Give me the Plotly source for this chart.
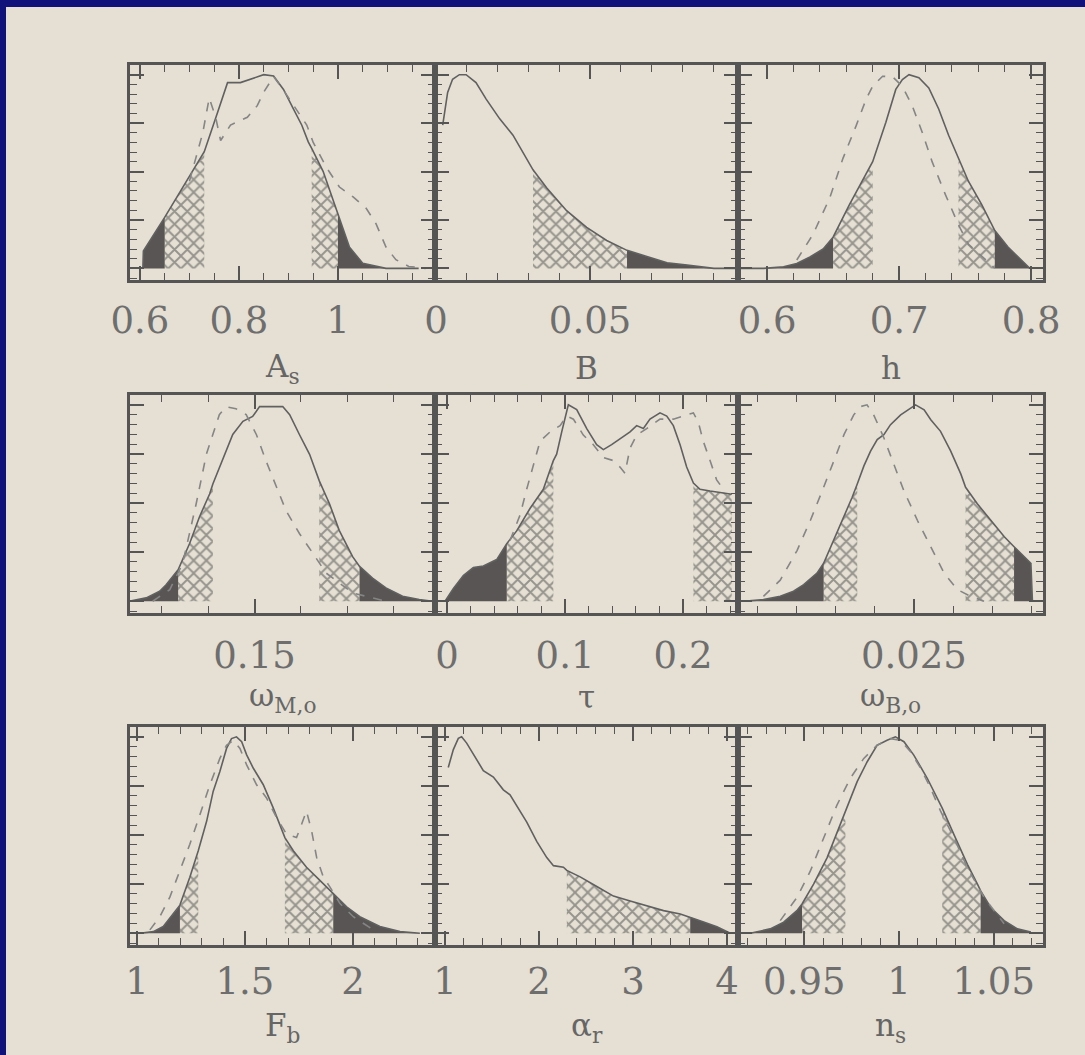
import numpy as np
import plotly.graph_objects as go

# ---------------- data (normalised marginal likelihoods, peak = 1) ----------------
AS_X = [0.606, 0.607, 0.65, 0.73, 0.757, 0.777, 0.803, 0.83, 0.85, 0.87, 0.89, 0.91, 0.927, 0.94, 0.947, 0.97, 1.0, 1.023, 1.05, 1.097, 1.163]
AS_Y = [0.0, 0.09, 0.263, 0.602, 0.806, 0.959, 0.959, 0.984, 1.0, 0.993, 0.924, 0.823, 0.739, 0.653, 0.62, 0.501, 0.28, 0.111, 0.026, 0.0, 0.0]
AS_DX = [0.70, 0.727, 0.74, 0.753, 0.763, 0.783, 0.817, 0.837, 0.85, 0.87, 0.89, 0.917, 0.937, 0.95, 0.977, 1.003, 1.03, 1.057, 1.077, 1.097, 1.117, 1.143, 1.177]
AS_DY = [0.45, 0.70, 0.88, 0.78, 0.66, 0.74, 0.78, 0.84, 0.91, 0.99, 0.92, 0.82, 0.74, 0.65, 0.52, 0.42, 0.37, 0.31, 0.23, 0.11, 0.045, 0.01, 0.0]
AS_DARK = [(0.606, 0.65), (1.0, 1.163)]
AS_HATCH = [(0.65, 0.73), (0.947, 1.0)]

B_X = [0.0022, 0.0038, 0.0054, 0.0076, 0.0098, 0.013, 0.0163, 0.0207, 0.025, 0.0293, 0.0315, 0.0359, 0.0424, 0.0489, 0.0554, 0.062, 0.0685, 0.075, 0.0815, 0.0902, 0.0975]
B_Y = [0.739, 0.908, 0.976, 1.0, 1.0, 0.959, 0.874, 0.772, 0.688, 0.569, 0.509, 0.416, 0.298, 0.212, 0.144, 0.093, 0.06, 0.029, 0.017, 0.0, 0.0]
B_DARK = [(0.062, 0.0975)]
B_HATCH = [(0.0315, 0.062)]

H_X = [0.58, 0.5975, 0.6125, 0.6225, 0.6325, 0.6425, 0.65, 0.6625, 0.68, 0.69, 0.6975, 0.7025, 0.7075, 0.715, 0.7225, 0.73, 0.7375, 0.745, 0.7525, 0.7625, 0.7725, 0.7825, 0.7925, 0.799]
H_Y = [0.0, 0.0, 0.008, 0.025, 0.059, 0.1, 0.161, 0.33, 0.551, 0.755, 0.924, 0.975, 1.0, 0.984, 0.932, 0.823, 0.687, 0.568, 0.45, 0.33, 0.195, 0.11, 0.043, 0.0]
H_DX = [0.6225, 0.635, 0.6475, 0.6575, 0.6675, 0.675, 0.68, 0.6875, 0.695, 0.7025, 0.71, 0.7175, 0.725, 0.735, 0.745, 0.7525, 0.7625, 0.7725]
H_DY = [0.043, 0.178, 0.364, 0.568, 0.737, 0.873, 0.941, 0.992, 0.99, 0.94, 0.839, 0.703, 0.551, 0.382, 0.225, 0.124, 0.064, 0.0]
H_DARK = [(0.58, 0.65), (0.7725, 0.799)]
H_HATCH = [(0.65, 0.68), (0.745, 0.7725)]

WM_X = [0.123, 0.1266, 0.1295, 0.1309, 0.1335, 0.136, 0.1381, 0.1403, 0.141, 0.1432, 0.1453, 0.1475, 0.1496, 0.1504, 0.1511, 0.1561, 0.1576, 0.1597, 0.1619, 0.164, 0.1662, 0.1683, 0.1712, 0.1727, 0.1755, 0.1784, 0.182, 0.1856, 0.1885]
WM_Y = [0.0, 0.017, 0.051, 0.084, 0.16, 0.295, 0.429, 0.546, 0.597, 0.731, 0.849, 0.916, 0.941, 0.967, 0.991, 0.991, 0.95, 0.849, 0.748, 0.613, 0.496, 0.361, 0.227, 0.177, 0.118, 0.068, 0.025, 0.009, 0.0]
WM_DX = [0.128, 0.1317, 0.1345, 0.1374, 0.1396, 0.1424, 0.1439, 0.146, 0.1482, 0.1504, 0.1525, 0.1547, 0.1568, 0.1597, 0.1626, 0.1655, 0.1712, 0.1784]
WM_DY = [0.0, 0.059, 0.194, 0.496, 0.748, 0.95, 0.99, 0.98, 0.95, 0.849, 0.714, 0.58, 0.462, 0.345, 0.244, 0.143, 0.042, 0.0]
WM_DARK = [(0.123, 0.1335), (0.1727, 0.1885)]
WM_HATCH = [(0.1335, 0.141), (0.164, 0.1727)]

T_X = [-0.0017, 0.0054, 0.0138, 0.0223, 0.0308, 0.0421, 0.0506, 0.059, 0.0703, 0.0816, 0.0901, 0.0929, 0.0972, 0.1, 0.1028, 0.1099, 0.1184, 0.1268, 0.1325, 0.1395, 0.1452, 0.1494, 0.1551, 0.1607, 0.1664, 0.172, 0.1805, 0.1862, 0.1918, 0.1975, 0.2031, 0.2088, 0.2144, 0.2229, 0.2342, 0.2413]
T_Y = [0.0, 0.065, 0.13, 0.171, 0.179, 0.212, 0.293, 0.358, 0.472, 0.57, 0.716, 0.749, 0.862, 0.927, 1.0, 0.976, 0.879, 0.797, 0.772, 0.797, 0.821, 0.838, 0.862, 0.894, 0.879, 0.927, 0.959, 0.943, 0.894, 0.797, 0.683, 0.602, 0.57, 0.561, 0.553, 0.545]
T_DX = [0.0534, 0.0619, 0.0675, 0.0732, 0.0788, 0.0873, 0.0958, 0.1014, 0.1071, 0.1155, 0.124, 0.1325, 0.1409, 0.1466, 0.1508, 0.1551, 0.1607, 0.1692, 0.1805, 0.1918, 0.2003, 0.2088, 0.213, 0.2172, 0.2229, 0.2285, 0.2342]
T_DY = [0.309, 0.439, 0.57, 0.7, 0.814, 0.862, 0.894, 0.943, 0.927, 0.846, 0.797, 0.732, 0.716, 0.683, 0.651, 0.78, 0.846, 0.879, 0.927, 0.927, 0.943, 0.959, 0.911, 0.814, 0.716, 0.618, 0.57]
T_DARK = [(-0.0017, 0.0506)]
T_HATCH = [(0.0506, 0.0901), (0.2088, 0.2413)]

WB_X = [0.02064, 0.02115, 0.02158, 0.02192, 0.02218, 0.02252, 0.02269, 0.02295, 0.02321, 0.02342, 0.02355, 0.02372, 0.02389, 0.02406, 0.02423, 0.0244, 0.02466, 0.02491, 0.02504, 0.02526, 0.02543, 0.02568, 0.02594, 0.0262, 0.02632, 0.02662, 0.02697, 0.02731, 0.02756, 0.02782, 0.02799, 0.02803]
WB_Y = [0.0, 0.008, 0.025, 0.051, 0.084, 0.143, 0.193, 0.311, 0.428, 0.529, 0.597, 0.689, 0.764, 0.823, 0.848, 0.899, 0.949, 0.982, 1.0, 0.975, 0.924, 0.865, 0.764, 0.647, 0.58, 0.496, 0.411, 0.328, 0.277, 0.227, 0.193, 0.0]
WB_DX = [0.02115, 0.02158, 0.02201, 0.02235, 0.02269, 0.02295, 0.02321, 0.02346, 0.02363, 0.0238, 0.02397, 0.02423, 0.02449, 0.02474, 0.02509, 0.02543, 0.02577, 0.02611, 0.02645, 0.02679]
WB_DY = [0.025, 0.107, 0.258, 0.411, 0.58, 0.714, 0.848, 0.949, 0.991, 1.0, 0.949, 0.832, 0.697, 0.563, 0.411, 0.277, 0.143, 0.059, 0.025, 0.0]
WB_DARK = [(0.02064, 0.02269), (0.02756, 0.02803)]
WB_HATCH = [(0.02269, 0.02355), (0.02632, 0.02756)]

FB_X = [1.014, 1.076, 1.122, 1.153, 1.184, 1.199, 1.245, 1.284, 1.323, 1.353, 1.384, 1.415, 1.438, 1.461, 1.485, 1.508, 1.539, 1.585, 1.631, 1.662, 1.685, 1.724, 1.785, 1.847, 1.909, 1.971, 2.032, 2.125, 2.218, 2.31]
FB_Y = [0.0, 0.008, 0.034, 0.076, 0.118, 0.143, 0.285, 0.42, 0.571, 0.722, 0.823, 0.941, 0.991, 1.0, 0.975, 0.908, 0.84, 0.756, 0.638, 0.554, 0.487, 0.42, 0.336, 0.269, 0.201, 0.134, 0.084, 0.034, 0.008, 0.0]
FB_DX = [1.06, 1.106, 1.153, 1.199, 1.245, 1.292, 1.338, 1.384, 1.415, 1.446, 1.477, 1.508, 1.554, 1.6, 1.647, 1.693, 1.739, 1.762, 1.785, 1.809, 1.832, 1.863, 1.894, 1.94, 2.002, 2.094]
FB_DY = [0.017, 0.084, 0.185, 0.319, 0.453, 0.605, 0.756, 0.89, 0.957, 0.982, 0.941, 0.857, 0.756, 0.689, 0.588, 0.504, 0.487, 0.554, 0.622, 0.52, 0.386, 0.285, 0.235, 0.151, 0.084, 0.017]
FB_DARK = [(1.014, 1.199), (1.909, 2.31)]
FB_HATCH = [(1.199, 1.284), (1.685, 1.909)]

AR_X = [1.035, 1.089, 1.142, 1.177, 1.231, 1.302, 1.408, 1.515, 1.621, 1.692, 1.763, 1.87, 1.976, 2.083, 2.154, 2.26, 2.296, 2.438, 2.615, 2.792, 2.97, 3.148, 3.325, 3.503, 3.609, 3.751, 3.893, 4.0, 4.035]
AR_Y = [0.844, 0.935, 0.992, 1.0, 0.968, 0.91, 0.828, 0.795, 0.73, 0.705, 0.648, 0.566, 0.468, 0.385, 0.344, 0.336, 0.32, 0.287, 0.238, 0.189, 0.164, 0.14, 0.115, 0.098, 0.082, 0.057, 0.033, 0.008, 0.0]
AR_DARK = [(3.609, 4.035)]
AR_HATCH = [(2.296, 3.609)]

NS_X = [0.9214, 0.932, 0.9391, 0.9461, 0.9488, 0.9549, 0.962, 0.969, 0.9717, 0.9779, 0.9832, 0.9884, 0.9937, 0.9981, 1.0026, 1.0078, 1.0149, 1.0202, 1.0228, 1.029, 1.0361, 1.0414, 1.0431, 1.0484, 1.0555, 1.0625, 1.0696]
NS_Y = [0.0, 0.022, 0.056, 0.115, 0.149, 0.25, 0.384, 0.553, 0.62, 0.772, 0.873, 0.957, 0.982, 1.0, 0.975, 0.907, 0.789, 0.688, 0.637, 0.502, 0.351, 0.25, 0.216, 0.131, 0.064, 0.022, 0.006]
NS_DX = [0.9373, 0.9461, 0.9532, 0.9602, 0.9673, 0.9743, 0.9814, 0.9884, 0.9955, 1.0008, 1.0061, 1.0114, 1.0167, 1.022, 1.029, 1.0361, 1.0449, 1.0555]
NS_DY = [0.064, 0.182, 0.317, 0.486, 0.654, 0.789, 0.89, 0.957, 0.991, 0.982, 0.924, 0.84, 0.738, 0.62, 0.486, 0.334, 0.182, 0.048]
NS_DARK = [(0.9214, 0.9488), (1.0431, 1.0696)]
NS_HATCH = [(0.9488, 0.9717), (1.0228, 1.0431)]

TITLES = ["A<sub>s</sub>", "B", "h", "ω<sub>M,o</sub>", "τ", "ω<sub>B,o</sub>", "F<sub>b</sub>", "α<sub>r</sub>", "n<sub>s</sub>"]
TICKVALS = [[0.6, 0.8, 1.0], [0.0, 0.05], [0.6, 0.7, 0.8], [0.15], [0.0, 0.1, 0.2], [0.025],
            [1.0, 1.5, 2.0], [1, 2, 3, 4], [0.95, 1.0, 1.05]]
TICKTEXT = [["0.6", "0.8", "1"], ["0", "0.05"], ["0.6", "0.7", "0.8"], ["0.15"], ["0", "0.1", "0.2"], ["0.025"],
            ["1", "1.5", "2"], ["1", "2", "3", "4"], ["0.95", "1", "1.05"]]

# ---------------- layout geometry (pixels) ----------------
W, H = 1085, 1055
COLS = [(130, 435), (435, 738), (738, 1043)]
ROWS = [(65, 280), (395, 613), (727, 945)]
XRANGES = [(0.58, 1.196), (-0.0003, 0.098), (0.578, 0.809),
           (0.1231, 0.189), (-0.0102, 0.2466), (0.0205, 0.0283),
           (0.968, 2.38), (0.894, 4.117), (0.915, 1.076)]
MINOR = [0.05, 0.01, 0.02, 0.01, 0.02, 0.001, 0.1, 0.2, 0.01]
STANDOFF = [6, 6, 6, 8, 8, 8, 2, 2, 2]
TITLE_GAP = [88, 88, 88, 84, 84, 84, 82, 82, 82]

panels = [
    (AS_X, AS_Y, AS_DX, AS_DY, AS_DARK, AS_HATCH),
    (B_X, B_Y, None, None, B_DARK, B_HATCH),
    (H_X, H_Y, H_DX, H_DY, H_DARK, H_HATCH),
    (WM_X, WM_Y, WM_DX, WM_DY, WM_DARK, WM_HATCH),
    (T_X, T_Y, T_DX, T_DY, T_DARK, T_HATCH),
    (WB_X, WB_Y, WB_DX, WB_DY, WB_DARK, WB_HATCH),
    (FB_X, FB_Y, FB_DX, FB_DY, FB_DARK, FB_HATCH),
    (AR_X, AR_Y, None, None, AR_DARK, AR_HATCH),
    (NS_X, NS_Y, NS_DX, NS_DY, NS_DARK, NS_HATCH),
]

BEIGE = "#e5e0d3"
NAVY = "#11117c"
INK = "#555555"
FONT = "DejaVu Serif"


def band(xs, ys, lo, hi):
    xs = np.asarray(xs, float)
    ys = np.asarray(ys, float)
    m = (xs >= lo - 1e-9) & (xs <= hi + 1e-9)
    px = np.concatenate([[xs[m][0]], xs[m], [xs[m][-1]]])
    py = np.concatenate([[0.0], ys[m], [0.0]])
    return px, py


fig = go.Figure()
layout = dict(
    width=W, height=H, autosize=False, margin=dict(l=0, r=0, t=0, b=0, pad=0),
    paper_bgcolor=NAVY, plot_bgcolor="rgba(0,0,0,0)", showlegend=False,
    shapes=[dict(type="rect", xref="paper", yref="paper", x0=6 / W, x1=1.0, y0=0.0, y1=1 - 7 / H,
                 fillcolor=BEIGE, line=dict(width=0), layer="below")],
    annotations=[],
)

for i, (xs, ys, dxs, dys, dark, hatch) in enumerate(panels):
    r, c = divmod(i, 3)
    n = "" if i == 0 else str(i + 1)
    xa, ya = "x" + n, "y" + n
    for lo, hi in hatch:
        px, py = band(xs, ys, lo, hi)
        fig.add_trace(go.Scatter(x=px, y=py, xaxis=xa, yaxis=ya, mode="none", fill="toself",
                                 fillcolor="rgba(0,0,0,0)",
                                 fillpattern=dict(shape="x", size=9, solidity=0.38, fgcolor="#474747",
                                                  bgcolor="rgba(0,0,0,0)"),
                                 hoverinfo="skip"))
    for lo, hi in dark:
        px, py = band(xs, ys, lo, hi)
        fig.add_trace(go.Scatter(x=px, y=py, xaxis=xa, yaxis=ya, mode="none", fill="toself",
                                 fillcolor="rgba(72,70,70,0.9)", hoverinfo="skip"))
    fig.add_trace(go.Scatter(x=xs, y=ys, xaxis=xa, yaxis=ya, mode="lines",
                             line=dict(color="#606060", width=1.6)))
    if dxs is not None:
        fig.add_trace(go.Scatter(x=dxs, y=dys, xaxis=xa, yaxis=ya, mode="lines",
                                 line=dict(color="#858585", width=1.6, dash="dash")))

    x0, x1 = COLS[c]
    y0, y1 = ROWS[r]
    common = dict(showline=True, linecolor=INK, linewidth=2.5, mirror="allticks", automargin=False,
                  ticks="inside", tickcolor=INK, tickwidth=1.5, showgrid=False, zeroline=False)
    layout["xaxis" + n] = dict(
        domain=[x0 / W, x1 / W], anchor=ya, range=list(XRANGES[i]),
        tickmode="array", tickvals=TICKVALS[i], ticktext=TICKTEXT[i], ticklen=14,
        tickfont=dict(family=FONT, size=37, color="#6e6e6e"), ticklabelstandoff=STANDOFF[i],
        minor=dict(tickmode="linear", tick0=0, dtick=MINOR[i], ticks="inside", ticklen=7,
                   tickcolor=INK, tickwidth=1.2),
        **common)
    layout["yaxis" + n] = dict(
        domain=[1 - y1 / H, 1 - y0 / H], anchor=xa, range=[-0.06, 1.05],
        tickmode="linear", tick0=0, dtick=0.25, ticklen=14, showticklabels=False,
        minor=dict(tickmode="linear", tick0=0, dtick=0.05, ticks="inside", ticklen=7,
                   tickcolor=INK, tickwidth=1.2),
        **common)
    layout["annotations"].append(dict(
        text=TITLES[i], xref="paper", yref="paper", x=(x0 + x1) / 2 / W, y=1 - (y1 + TITLE_GAP[i]) / H,
        xanchor="center", yanchor="middle", showarrow=False,
        font=dict(family=FONT, size=31, color="#666666")))

fig.update_layout(**layout)
fig.write_html("out.html", config={"displayModeBar": False},
               post_script="document.body.style.margin='0px';document.body.style.overflow='hidden';")
